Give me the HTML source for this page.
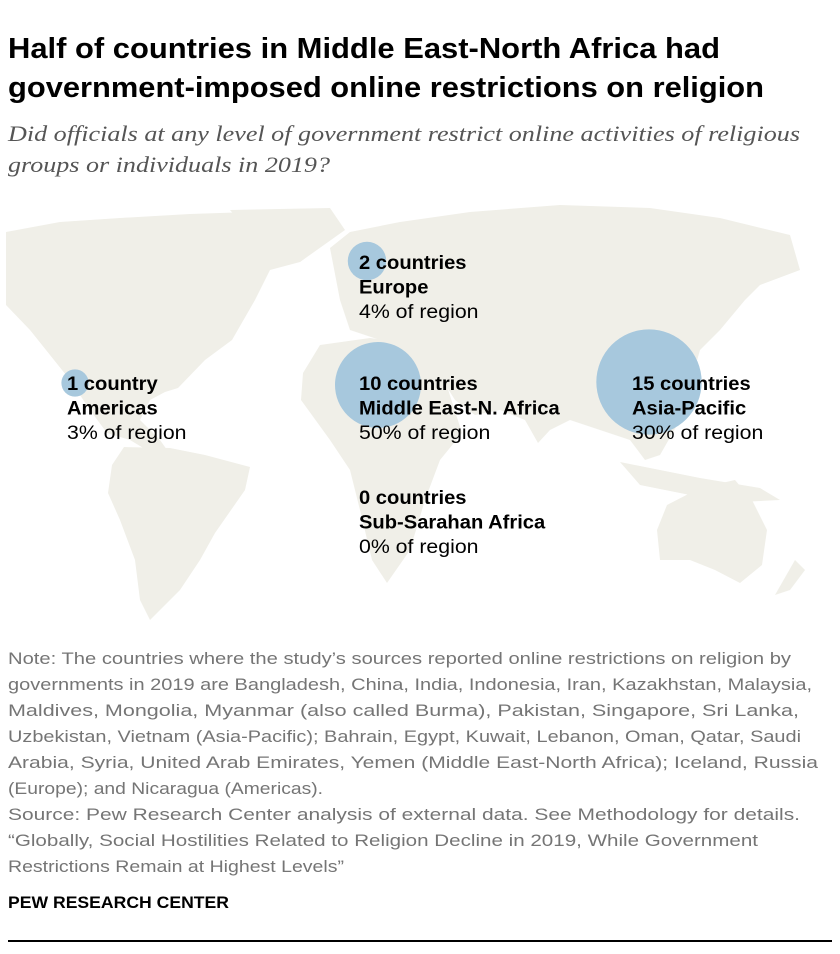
<!DOCTYPE html>
<html><head><meta charset="utf-8"><style>
html,body{margin:0;padding:0;background:#fff;}
svg{display:block;}
</style></head><body>
<svg width="840" height="954" viewBox="0 0 840 954" xmlns="http://www.w3.org/2000/svg">
<g font-family="Liberation Sans, sans-serif" font-weight="bold" font-size="29" fill="#000">
<text x="8" y="58" textLength="712" lengthAdjust="spacingAndGlyphs">Half of countries in Middle East-North Africa had</text>
<text x="8" y="97" textLength="756" lengthAdjust="spacingAndGlyphs">government-imposed online restrictions on religion</text>
</g>
<g font-family="Liberation Serif, serif" font-style="italic" font-size="22" fill="#555">
<text x="8" y="141" textLength="792" lengthAdjust="spacingAndGlyphs">Did officials at any level of government restrict online activities of religious</text>
<text x="8" y="172" textLength="322" lengthAdjust="spacingAndGlyphs">groups or individuals in 2019?</text>
</g>
<g fill="#f0efe8">
<path d="M6,232 L60,222 L120,218 L190,214 L250,212 L330,214 L335,235 L300,262 L270,270 L255,300 L232,340 L205,360 L178,388 L165,392 L150,400 L140,420 L160,440 L172,457 L160,458 L130,440 L107,433 L90,410 L70,380 L54,360 L30,330 L6,305 Z"/>
<path d="M124,447 L170,448 L205,455 L250,467 L245,490 L215,533 L200,560 L180,590 L150,620 L140,600 L135,560 L120,520 L108,493 L112,465 Z"/>
<path d="M330,248 L350,232 L400,222 L470,212 L560,205 L650,208 L720,218 L790,235 L800,270 L760,285 L745,300 L720,330 L700,350 L690,385 L680,420 L660,455 L645,460 L630,440 L600,430 L570,420 L550,430 L538,443 L525,420 L500,410 L475,415 L455,400 L430,360 L410,345 L380,340 L350,330 L340,300 Z"/>
<path d="M320,345 L370,338 L420,345 L445,380 L462,433 L440,460 L425,500 L410,550 L387,583 L372,560 L360,510 L350,470 L330,440 L301,400 L303,373 Z"/>
<path d="M620,462 L660,470 L700,478 L760,488 L780,500 L740,502 L690,495 L640,485 Z"/>
<path d="M667,505 L700,488 L735,480 L752,500 L767,530 L762,565 L740,583 L715,570 L690,560 L660,560 L657,530 Z"/>
<path d="M795,560 L805,570 L790,590 L775,595 Z"/>
<path d="M230,210 L330,208 L345,230 L300,262 L260,245 Z"/>
</g>
<g id="bubbles"></g>
<g id="labels" font-family="Liberation Sans, sans-serif" font-size="19" fill="#000"></g>
<g font-family="Liberation Sans, sans-serif" font-size="17" fill="#757575">
<text x="8" y="664" textLength="783" lengthAdjust="spacingAndGlyphs">Note: The countries where the study’s sources reported online restrictions on religion by</text>
<text x="8" y="690" textLength="804" lengthAdjust="spacingAndGlyphs">governments in 2019 are Bangladesh, China, India, Indonesia, Iran, Kazakhstan, Malaysia,</text>
<text x="8" y="716" textLength="791" lengthAdjust="spacingAndGlyphs">Maldives, Mongolia, Myanmar (also called Burma), Pakistan, Singapore, Sri Lanka,</text>
<text x="8" y="742" textLength="793" lengthAdjust="spacingAndGlyphs">Uzbekistan, Vietnam (Asia-Pacific); Bahrain, Egypt, Kuwait, Lebanon, Oman, Qatar, Saudi</text>
<text x="8" y="768" textLength="810" lengthAdjust="spacingAndGlyphs">Arabia, Syria, United Arab Emirates, Yemen (Middle East-North Africa); Iceland, Russia</text>
<text x="8" y="794" textLength="315" lengthAdjust="spacingAndGlyphs">(Europe); and Nicaragua (Americas).</text>
<text x="8" y="820" textLength="792" lengthAdjust="spacingAndGlyphs">Source: Pew Research Center analysis of external data. See Methodology for details.</text>
<text x="8" y="846" textLength="750" lengthAdjust="spacingAndGlyphs">“Globally, Social Hostilities Related to Religion Decline in 2019, While Government</text>
<text x="8" y="872" textLength="336" lengthAdjust="spacingAndGlyphs">Restrictions Remain at Highest Levels”</text>
</g>
<text x="8" y="908" font-family="Liberation Sans, sans-serif" font-weight="bold" font-size="17" fill="#000" textLength="221" lengthAdjust="spacingAndGlyphs">PEW RESEARCH CENTER</text>
<rect x="8" y="940" width="824" height="2" fill="#000"/>
<script>
const regions = ["Americas", "Europe", "Middle East-N. Africa", "Asia-Pacific", "Sub-Sarahan Africa"];
const counts = [1, 2, 10, 15, 0];
const percents = [3, 4, 50, 30, 0];
const bubbleX = [75, 367, 378, 649, 0];
const bubbleY = [383, 261, 385, 382, 500];
const labelX = [67, 359, 359, 632, 359];
const labelY = [390, 269, 390, 390, 504];
const NS = "http://www.w3.org/2000/svg";
function rScale(n){ return 13.6 * Math.sqrt(n); }
const bg = document.getElementById("bubbles");
const lg = document.getElementById("labels");
regions.forEach((reg, i) => {
  if (counts[i] > 0) {
    const c = document.createElementNS(NS, "circle");
    c.setAttribute("cx", bubbleX[i]);
    c.setAttribute("cy", bubbleY[i]);
    c.setAttribute("r", rScale(counts[i]));
    c.setAttribute("fill", "#a7c8dd");
    
    
    bg.appendChild(c);
  }
  const lines = [
    [counts[i] + (counts[i] === 1 ? " country" : " countries"), "bold"],
    [reg, "bold"],
    [percents[i] + "% of region", "normal"]
  ];
  lines.forEach((ln, j) => {
    const t = document.createElementNS(NS, "text");
    t.setAttribute("x", labelX[i]);
    t.setAttribute("y", labelY[i] + j * 24.5);
    t.setAttribute("font-weight", ln[1]);
    t.textContent = ln[0];
    
    
    lg.appendChild(t);
    const w = t.getComputedTextLength();
    t.setAttribute("textLength", (w * (ln[1] === "bold" ? 1.06 : 1.12)).toFixed(1));
    t.setAttribute("lengthAdjust", "spacingAndGlyphs");
  });
});
</script>
</svg>
</body></html>
